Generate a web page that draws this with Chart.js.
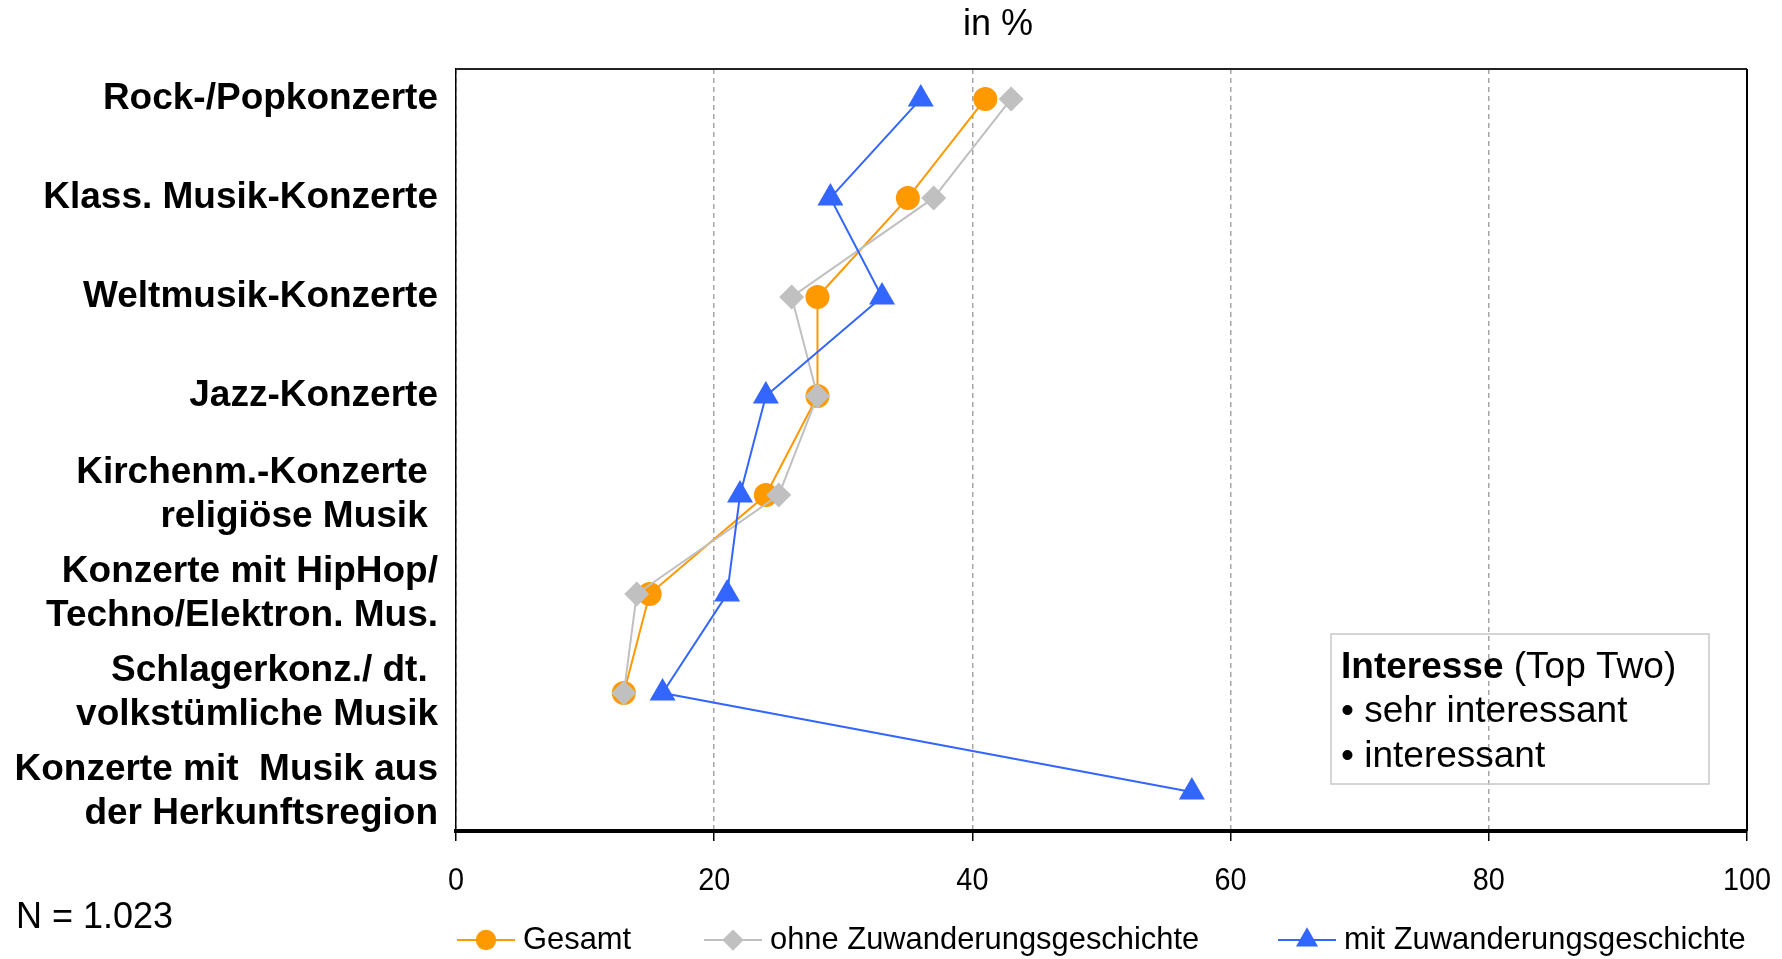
<!DOCTYPE html>
<html>
<head>
<meta charset="utf-8">
<script src="https://cdn.jsdelivr.net/npm/chart.js@4.4.1/dist/chart.umd.min.js"></script>
<style>
  html, body { margin: 0; padding: 0; background: #fff; }
  #wrap { width: 1782px; height: 959px; }
</style>
</head>
<body>
<div id="wrap"><canvas id="chart" width="1782" height="959"></canvas></div>
<script>
//chart data
const categories = [
  ["Rock-/Popkonzerte"],
  ["Klass. Musik-Konzerte"],
  ["Weltmusik-Konzerte"],
  ["Jazz-Konzerte"],
  ["Kirchenm.-Konzerte ", "religiöse Musik "],
  ["Konzerte mit HipHop/", "Techno/Elektron. Mus."],
  ["Schlagerkonz./ dt. ", "volkstümliche Musik"],
  ["Konzerte mit  Musik aus", "der Herkunftsregion"],
];
const seriesNames = ["Gesamt", "ohne Zuwanderungsgeschichte", "mit Zuwanderungsgeschichte"];
const gesamt = [41, 35, 28, 28, 24, 15, 13, null];
const ohneZuw = [43, 37, 26, 28, 25, 14, 13, null];
const mitZuw = [36, 29, 33, 24, 22, 21, 16, 57];
const xTicks = [0, 20, 40, 60, 80, 100];
const titleText = "in %";
const noteText = "N = 1.023";
const boxTitle = ["Interesse", " (Top Two)"];
const boxItems = ["• sehr interessant", "• interessant"];

const sans = "'Liberation Sans', Arial, sans-serif";
const ctx = document.getElementById("chart").getContext("2d");

Chart.defaults.font.family = sans;
Chart.defaults.color = "#000";

//turn a value list into points, one row per category
function toPoints(values) {
  return values.map((v, i) => ({ x: v, y: i + 1 }));
}

function makeSeries(label, values, color, style, radius, order) {
  return {
    label,
    data: toPoints(values),
    showLine: true,
    borderColor: color,
    backgroundColor: color,
    borderWidth: 2,
    pointStyle: style,
    pointRadius: radius,
    pointHoverRadius: radius,
    pointBorderWidth: 0,
    pointBackgroundColor: color,
    order,
  };
}

//slightly narrow text: plain font squeezed sideways
function narrowText(c, text, x, y, squeeze) {
  c.save();
  c.translate(x, y);
  c.scale(squeeze, 1);
  c.fillText(text, 0, 0);
  c.restore();
}

//frame, title, note, text box, tick labels and legend
const extras = {
  id: "extras",
  afterDraw(chart) {
    const c = chart.ctx;
    const area = chart.chartArea;
    c.save();
    // top and right frame
    c.strokeStyle = "#222";
    c.lineWidth = 2;
    c.beginPath();
    c.moveTo(area.left, area.top);
    c.lineTo(area.right, area.top);
    c.stroke();
    c.strokeStyle = "#000";
    c.beginPath();
    c.moveTo(area.right, area.top);
    c.lineTo(area.right, area.bottom);
    c.stroke();

    // title
    c.fillStyle = "#000";
    c.textBaseline = "alphabetic";
    c.textAlign = "center";
    c.font = "36px " + sans;
    c.fillText(titleText, 998, 35);

    // N note
    c.textAlign = "left";
    c.fillText(noteText, 16, 928);

    // interesse box
    c.strokeStyle = "#c8c8c8";
    c.lineWidth = 1.5;
    c.strokeRect(1331, 634, 378, 150);
    c.font = "bold 37px " + sans;
    c.fillText(boxTitle[0], 1341, 678);
    const w = c.measureText(boxTitle[0]).width;
    c.font = "37px " + sans;
    c.fillText(boxTitle[1], 1341 + w, 678);
    boxItems.forEach((t, i) => {
      c.fillText(t, 1341, 722 + i * 45);
    });

    // x tick labels
    const xs = chart.scales.x;
    c.font = "31px " + sans;
    c.textAlign = "center";
    c.textBaseline = "middle";
    xTicks.forEach((v) => {
      narrowText(c, String(v), xs.getPixelForValue(v), 881, 0.93);
    });

    // legend
    const legendX = [457, 704, 1278];
    const legendY = 940;
    chart.data.datasets.forEach((ds, i) => {
      const x0 = legendX[i];
      c.strokeStyle = ds.borderColor;
      c.lineWidth = 2;
      c.beginPath();
      c.moveTo(x0, legendY);
      c.lineTo(x0 + 58, legendY);
      c.stroke();
      c.fillStyle = ds.borderColor;
      Chart.helpers.drawPoint(c, { pointStyle: ds.pointStyle, radius: ds.pointRadius * 0.85, rotation: 0, borderWidth: 0 }, x0 + 29, legendY);
      c.fillStyle = "#000";
      c.font = "32px " + sans;
      c.textAlign = "left";
      c.textBaseline = "middle";
      narrowText(c, seriesNames[i], x0 + 66, legendY, 0.965);
    });
    c.restore();
  },
};

new Chart(ctx, {
  type: "scatter",
  data: {
    datasets: [
      makeSeries(seriesNames[0], gesamt, "#ff9900", "circle", 12, 3),
      makeSeries(seriesNames[1], ohneZuw, "#c0c0c0", "rectRot", 12.5, 2),
      makeSeries(seriesNames[2], mitZuw, "#3366ff", "triangle", 15, 1),
    ],
  },
  options: {
    responsive: false,
    animation: false,
    devicePixelRatio: 1,
    layout: { padding: { top: 69, right: 35, left: 0, bottom: 0 } },
    plugins: {
      legend: { display: false },
      tooltip: { enabled: false },
      title: { display: false },
    },
    scales: {
      x: {
        type: "linear",
        min: 0,
        max: 100,
        afterBuildTicks: (scale) => {
          scale.ticks = xTicks.map((v) => ({ value: v }));
        },
        afterFit: (scale) => {
          scale.height = 128;
        },
        ticks: { display: false },
        grid: {
          color: "#a6a6a6",
          lineWidth: 1.5,
          tickColor: "#000",
          tickWidth: 1.5,
          tickBorderDash: [],
          tickLength: 10,
        },
        border: { display: true, color: "#000", width: 4, dash: [5, 4] },
      },
      y: {
        type: "linear",
        reverse: true,
        min: 0.698,
        max: 8.393,
        afterBuildTicks: (scale) => {
          scale.ticks = categories.map((c, i) => ({ value: i + 1 }));
        },
        afterFit: (scale) => {
          scale.width = 456;
        },
        ticks: {
          callback: (v) => categories[v - 1],
          font: { family: sans, size: 37, weight: "bold", lineHeight: 1.2 },
          color: "#000",
          padding: 18,
          autoSkip: false,
        },
        grid: { display: false, drawTicks: false },
        border: { display: true, color: "#000", width: 1.5 },
      },
    },
  },
  plugins: [extras],
});
</script>
</body>
</html>
